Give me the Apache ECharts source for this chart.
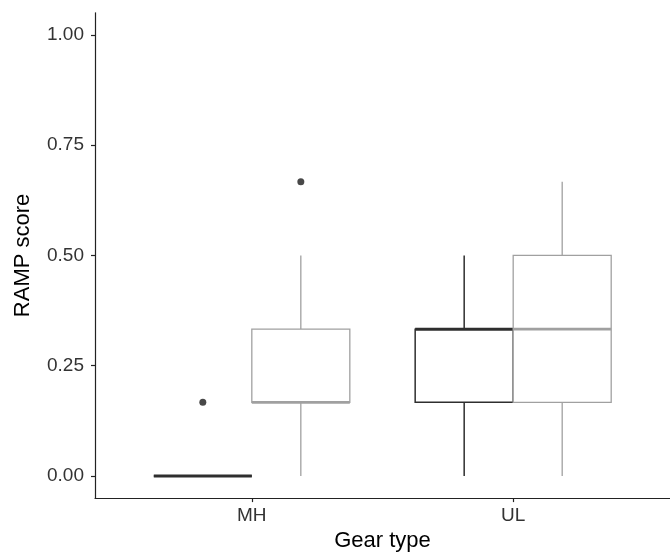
<!DOCTYPE html>
<html>
<head>
<meta charset="utf-8">
<script src="https://cdn.jsdelivr.net/npm/echarts@6/dist/echarts.min.js"></script>
<style>
html,body{margin:0;padding:0;background:#fff;}
#chart{width:670px;height:557px;}
</style>
</head>
<body>
<div id="chart"></div>
<script>
// ---- data ----
const categories = ['MH', 'UL'];
const yTicks = [0, 0.25, 0.5, 0.75, 1.0];
// box stats per category: [min, q1, median, q3, max]
const boxBlack = [
  [0, 0, 0, 0, 0],
  [0, 0.167, 0.333, 0.333, 0.5]
];
const boxGray = [
  [0, 0.167, 0.167, 0.333, 0.5],
  [0, 0.167, 0.333, 0.5, 0.667]
];
// outliers per category
const outBlack = [[0.167], []];
const outGray = [[0.667], []];

// ---- styling / layout ----
const DODGE = 0.1875, BOXW = 0.375;
const BLACK = '#2e2e2e', GRAY = '#a0a0a0';

function boxData(stats, off, colorKey) {
  return stats.map((s, i) => [i + 1 + off, s[0], s[1], s[2], s[3], s[4], colorKey]);
}
function outData(outs, off) {
  const r = [];
  outs.forEach((arr, i) => arr.forEach(v => r.push([i + 1 + off, v])));
  return r;
}

function renderBox(params, api) {
  const x = api.value(0);
  const mn = api.value(1), q1 = api.value(2), md = api.value(3), q3 = api.value(4), mx = api.value(5);
  const isBlack = api.value(6) === 0;
  const color = isBlack ? BLACK : GRAY;
  const pL = api.coord([x - BOXW / 2, q3]);
  const pR = api.coord([x + BOXW / 2, q1]);
  const c = api.coord([x, 0]);
  const yMin = api.coord([x, mn])[1], yMax = api.coord([x, mx])[1];
  const yMd = api.coord([x, md])[1];
  const yQ1 = pR[1], yQ3 = pL[1];
  const lw = isBlack ? 1.5 : 1.3;
  return {
    type: 'group',
    children: [
      { type: 'line', shape: { x1: c[0], y1: yQ3, x2: c[0], y2: yMax }, style: { stroke: color, lineWidth: lw } },
      { type: 'line', shape: { x1: c[0], y1: yQ1, x2: c[0], y2: yMin }, style: { stroke: color, lineWidth: lw } },
      { type: 'rect', shape: { x: pL[0], y: yQ3, width: pR[0] - pL[0], height: yQ1 - yQ3 }, style: { fill: '#fff', stroke: color, lineWidth: lw } },
      { type: 'line', shape: { x1: pL[0], y1: yMd, x2: pR[0], y2: yMd }, style: { stroke: color, lineWidth: lw * 2 } }
    ]
  };
}

const chart = echarts.init(document.getElementById('chart'), null, { renderer: 'canvas' });
chart.setOption({
  animation: false,
  backgroundColor: '#fff',
  grid: { left: 95, top: 12.8, width: 586.7, height: 493.4, containLabel: false },
  xAxis: {
    type: 'value', min: 0.4, max: 2.6,
    name: 'Gear type', nameLocation: 'middle', nameGap: 30,
    nameTextStyle: { fontFamily: 'Liberation Sans', fontSize: 22, color: '#000' },
    axisLine: { show: true, onZero: false, lineStyle: { color: '#222', width: 1.2 } },
    axisTick: { show: true, customValues: [1, 2], length: 4, lineStyle: { color: '#222', width: 1.2 } },
    axisLabel: { customValues: [1, 2], formatter: v => categories[Math.round(v) - 1], fontFamily: 'Liberation Sans', fontSize: 19, color: '#333', margin: 8 },
    splitLine: { show: false }
  },
  yAxis: {
    type: 'value', min: -0.05, max: 1.05,
    name: 'RAMP score', nameLocation: 'middle', nameGap: 61, nameRotate: 90,
    nameTextStyle: { fontFamily: 'Liberation Sans', fontSize: 22, color: '#000' },
    axisLine: { show: true, onZero: false, lineStyle: { color: '#222', width: 1.2 } },
    axisTick: { show: true, customValues: yTicks, length: 4, lineStyle: { color: '#222', width: 1.2 } },
    axisLabel: { customValues: yTicks, formatter: v => v.toFixed(2), fontFamily: 'Liberation Sans', fontSize: 19, color: '#333', margin: 11 },
    splitLine: { show: false }
  },
  series: [
    { type: 'custom', renderItem: renderBox, data: boxData(boxBlack, -DODGE, 0), clip: true, z: 2 },
    { type: 'custom', renderItem: renderBox, data: boxData(boxGray, DODGE, 1), clip: true, z: 3 },
    { type: 'scatter', data: outData(outBlack, -DODGE), symbol: 'circle', symbolSize: 7, itemStyle: { color: '#1a1a1a' }, z: 4 },
    { type: 'scatter', data: outData(outGray, DODGE), symbol: 'circle', symbolSize: 7, itemStyle: { color: '#1a1a1a' }, z: 4 }
  ]
});
</script>
</body>
</html>
